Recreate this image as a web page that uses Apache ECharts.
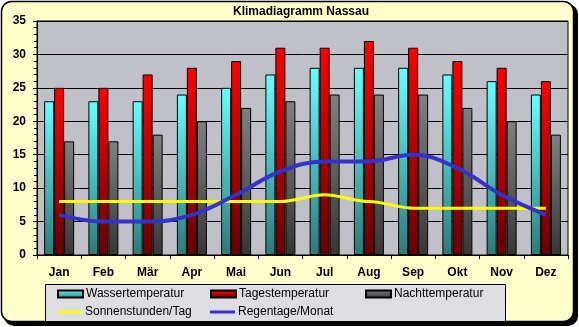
<!DOCTYPE html>
<html>
<head>
<meta charset="utf-8">
<script src="https://cdn.jsdelivr.net/npm/echarts@6/dist/echarts.min.js"></script>
<style>html,body{margin:0;padding:0;background:#fff;}#c{width:579px;height:327px;}</style>
</head>
<body>
<div id="c"></div>
<script>
var titleText = 'Klimadiagramm Nassau';
var months = ['Jan','Feb','Mär','Apr','Mai','Jun','Jul','Aug','Sep','Okt','Nov','Dez'];
var wassertemperatur = [23,23,23,24,25,27,28,28,28,27,26,24];
var tagestemperatur = [25,25,27,28,29,31,31,32,31,29,28,26];
var nachttemperatur = [17,17,18,20,22,23,24,24,24,22,20,18];
var sonnenstunden = [8,8,8,8,8,8,9,8,7,7,7,7];
var regentage = [6,5,5,6,9,12.5,14,14,15,13,9,6];
var seriesNames = ['Wassertemperatur','Tagestemperatur','Nachttemperatur','Sonnenstunden/Tag','Regentage/Monat'];

function grad(top, bottom) {
  return new echarts.graphic.LinearGradient(0, 0, 0, 1, [
    {offset: 0, color: top}, {offset: 1, color: bottom}
  ]);
}
var font = 'Arial, "Liberation Sans", sans-serif';
var chart = echarts.init(document.getElementById('c'), null, {renderer: 'canvas'});

function legendAt(name, left, top, isLine) {
  return {
    data: [{name: name, icon: 'rect'}],
    left: left, top: top, padding: 0,
    itemWidth: 25, itemHeight: isLine ? 3 : 7,
    selectedMode: false,
    textStyle: {fontFamily: font, fontSize: 12, color: '#000', padding: [0,0,0,-2]}
  };
}

var option = {
  backgroundColor: '#fff',
  animation: false,
  title: {
    text: titleText, left: 301, top: 6, padding: 0, textAlign: 'center',
    textStyle: {fontFamily: font, fontSize: 12, fontWeight: 'bold', color: '#000'}
  },
  graphic: [
    {type: 'rect', z: -20, shape: {x: 4, y: 4, width: 574, height: 322, r: 10}, style: {fill: '#000'}},
    {type: 'rect', z: -19, shape: {x: 1.5, y: 1.5, width: 572, height: 320, r: 10}, style: {fill: '#FFFFCC', stroke: '#000', lineWidth: 1.5}},
    {type: 'rect', z: -18, shape: {x: 45.5, y: 284.5, width: 460, height: 37}, style: {fill: '#DEDEE2', stroke: '#000', lineWidth: 1}}
  ],
  legend: [
    legendAt(seriesNames[0], 57, 288, false),
    legendAt(seriesNames[1], 210, 288, false),
    legendAt(seriesNames[2], 365, 288, false),
    legendAt(seriesNames[3], 57, 306, true),
    legendAt(seriesNames[4], 210, 306, true)
  ],
  grid: {
    left: 37, right: 11, top: 21, bottom: 72,
    show: true, backgroundColor: '#C0C0C8', borderColor: '#000', borderWidth: 1
  },
  xAxis: {
    type: 'category', data: months,
    axisLine: {lineStyle: {color: '#000', width: 1}},
    axisTick: {show: true, length: 4, lineStyle: {color: '#000'}},
    axisLabel: {fontFamily: font, fontSize: 12, fontWeight: 'bold', color: '#000', margin: 12}
  },
  yAxis: {
    type: 'value', min: 0, max: 35, interval: 5,
    axisLine: {show: true, lineStyle: {color: '#000'}},
    axisTick: {show: true, length: 4, lineStyle: {color: '#000'}},
    minorTick: {show: true, splitNumber: 5, length: 3, lineStyle: {color: '#000'}},
    splitLine: {show: true, lineStyle: {color: '#000', width: 1}},
    axisLabel: {fontFamily: font, fontSize: 12, fontWeight: 'bold', color: '#000', margin: 11}
  },
  series: [
    {name: seriesNames[0], type: 'bar', data: wassertemperatur, barWidth: 10, barGap: '0%',
     itemStyle: {color: grad('#66FFFF', '#2D7A7A'), borderColor: '#000', borderWidth: 1}},
    {name: seriesNames[1], type: 'bar', data: tagestemperatur, barWidth: 10, barGap: '0%',
     itemStyle: {color: grad('#FF0000', '#660000'), borderColor: '#000', borderWidth: 1}},
    {name: seriesNames[2], type: 'bar', data: nachttemperatur, barWidth: 10, barGap: '0%',
     itemStyle: {color: grad('#808080', '#363636'), borderColor: '#000', borderWidth: 1}},
    {name: seriesNames[3], type: 'line', data: sonnenstunden, smooth: 0.3, smoothMonotone: 'x', symbol: 'none',
     z: 5, itemStyle: {color: '#FFFF00'}, lineStyle: {color: '#FFFF00', width: 3}},
    {name: seriesNames[4], type: 'line', data: regentage, smooth: 0.4, symbol: 'none',
     z: 6, itemStyle: {color: '#3333CC'}, lineStyle: {color: '#3333CC', width: 4}}
  ]
};
chart.setOption(option);
</script>
</body>
</html>
